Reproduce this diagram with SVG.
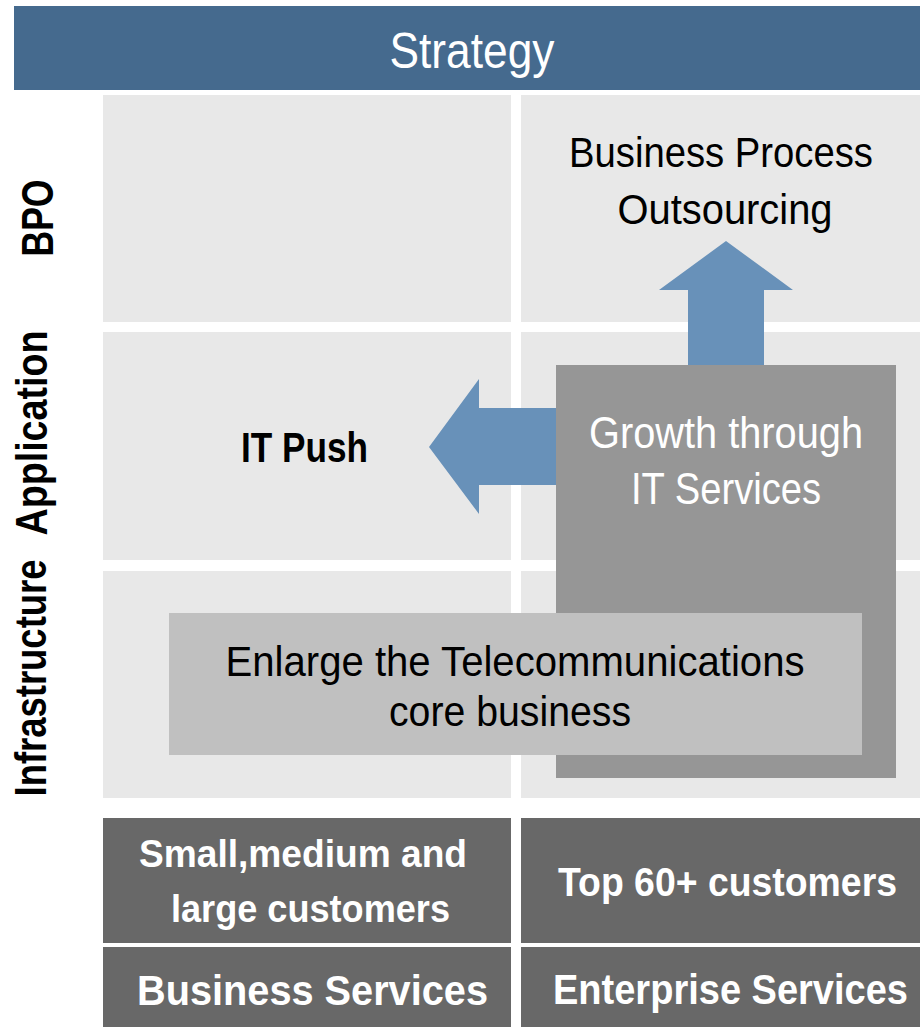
<svg xmlns="http://www.w3.org/2000/svg" width="920" height="1027" viewBox="0 0 920 1027">
<style>
text{font-family:"Liberation Sans",Arial,sans-serif;}
.cell{fill:#E8E8E8;}
.foot{fill:#686868;}
.arrow{fill:#6891B9;}
.w{fill:#FFFFFF;}
.k{fill:#000000;}
.b{font-weight:bold;}
.m{text-anchor:middle;}
</style>
<rect x="0" y="0" width="920" height="1027" fill="#FFFFFF"/>
<g id="header">
<rect x="14" y="6" width="906" height="84" fill="#456A8E"/>
<text class="w m" x="472" y="68" font-size="50" textLength="165" lengthAdjust="spacingAndGlyphs">Strategy</text>
</g>
<g id="grid">
<rect class="cell" x="103" y="95" width="408" height="227"/>
<rect class="cell" x="521" y="95" width="399" height="227"/>
<rect class="cell" x="103" y="332" width="408" height="228"/>
<rect class="cell" x="521" y="332" width="399" height="228"/>
<rect class="cell" x="103" y="571" width="408" height="227"/>
<rect class="cell" x="521" y="571" width="399" height="227"/>
</g>
<g id="row-labels">
<text class="k b m" transform="translate(53 218) rotate(-90)" font-size="44" textLength="77" lengthAdjust="spacingAndGlyphs">BPO</text>
<text class="k b m" transform="translate(47 433) rotate(-90)" font-size="44" textLength="205" lengthAdjust="spacingAndGlyphs">Application</text>
<text class="k b m" transform="translate(46 678) rotate(-90)" font-size="44" textLength="237" lengthAdjust="spacingAndGlyphs">Infrastructure</text>
</g>
<g id="bpo">
<text class="k m" x="721" y="167" font-size="43" textLength="304" lengthAdjust="spacingAndGlyphs">Business Process</text>
<text class="k m" x="725" y="224" font-size="43" textLength="215" lengthAdjust="spacingAndGlyphs">Outsourcing</text>
</g>
<g id="it-push">
<text class="k b m" x="304.5" y="462" font-size="43" textLength="127" lengthAdjust="spacingAndGlyphs">IT Push</text>
</g>
<g id="connectors">
<polygon class="arrow" points="726,241 793,290 764,290 764,366 688,366 688,290 659,290"/>
<polygon class="arrow" points="429,447 479,379 479,408 556,408 556,485 479,485 479,514"/>
</g>
<g id="growth">
<rect x="556" y="365" width="340" height="413" fill="#969696"/>
<text class="w m" x="726" y="448" font-size="44" textLength="274" lengthAdjust="spacingAndGlyphs">Growth through</text>
<text class="w m" x="726" y="504" font-size="44" textLength="190" lengthAdjust="spacingAndGlyphs">IT Services</text>
</g>
<g id="telecom">
<rect x="169" y="613" width="693" height="142" fill="#C0C0C0"/>
<text class="k m" x="515" y="676" font-size="43" textLength="579" lengthAdjust="spacingAndGlyphs">Enlarge the Telecommunications</text>
<text class="k m" x="510" y="726" font-size="43" textLength="242" lengthAdjust="spacingAndGlyphs">core business</text>
</g>
<g id="small-medium-large">
<rect class="foot" x="103" y="818" width="408" height="125"/>
<text class="w b m" x="303" y="867" font-size="39" textLength="328" lengthAdjust="spacingAndGlyphs">Small,medium and</text>
<text class="w b m" x="310.5" y="922" font-size="39" textLength="279" lengthAdjust="spacingAndGlyphs">large customers</text>
</g>
<g id="top60">
<rect class="foot" x="521" y="818" width="399" height="125"/>
<text class="w b m" x="727.5" y="896" font-size="40" textLength="339" lengthAdjust="spacingAndGlyphs">Top 60+ customers</text>
</g>
<g id="business-services">
<rect class="foot" x="103" y="947" width="408" height="80"/>
<text class="w b m" x="312.5" y="1005" font-size="43" textLength="351" lengthAdjust="spacingAndGlyphs">Business Services</text>
</g>
<g id="enterprise-services">
<rect class="foot" x="521" y="947" width="399" height="80"/>
<text class="w b" x="553" y="1004" font-size="43" textLength="355" lengthAdjust="spacingAndGlyphs">Enterprise Services</text>
</g>
</svg>
